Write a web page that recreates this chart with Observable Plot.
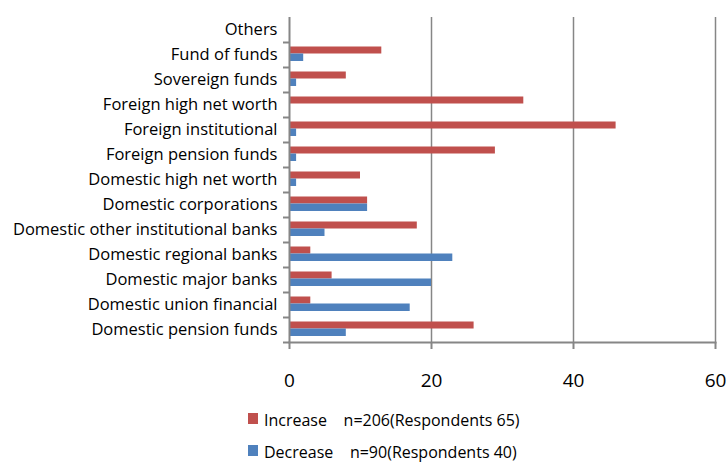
<!DOCTYPE html>
<html><head><meta charset="utf-8">
<script src="https://cdn.jsdelivr.net/npm/d3@7"></script>
<script src="https://cdn.jsdelivr.net/npm/@observablehq/plot@0.6"></script>
<style>
body{margin:0;background:#fff;font-family:"Open Sans",sans-serif}
#wrap{position:relative;width:728px;height:462px;overflow:hidden}
.leg{position:absolute;left:248px;font-size:16px;white-space:pre;color:#000;display:flex;align-items:center;line-height:20px}
.sw{width:10px;height:11px;margin-right:6px;margin-top:-4px}
</style></head>
<body><div id="wrap"></div>
<script>
const categories = ["Others","Fund of funds","Sovereign funds","Foreign high net worth","Foreign institutional","Foreign pension funds","Domestic high net worth","Domestic corporations","Domestic other institutional banks","Domestic regional banks","Domestic major banks","Domestic union financial","Domestic pension funds"];
const increase = [0,13,8,33,46,29,10,11,18,3,6,3,26];
const decrease = [0,2,1,0,1,1,1,11,5,23,20,17,8];
const seriesNames = ["Increase","Decrease"];
const legendLabels = ["Increase    n=206(Respondents 65)","Decrease    n=90(Respondents 40)"];
const colors = ["#C0504D","#4F81BD"];
const xTicks = [0,20,40,60];

const incData = categories.map((c,i)=>({category:c, value:increase[i]}));
const decData = categories.map((c,i)=>({category:c, value:decrease[i]}));

const chart = Plot.plot({
  width: 728, height: 400,
  marginLeft: 289, marginRight: 13, marginTop: 17, marginBottom: 58,
  style: {fontFamily: '"Open Sans", sans-serif', color: "#000", background: "#fff"},
  x: {domain: [0,60], ticks: xTicks, label: null},
  y: {domain: categories, padding: 0, label: null},
  marks: [
    Plot.gridX(xTicks.filter(d=>d>0), {stroke: "#868686", strokeOpacity: 1, strokeWidth: 1.5}),
    Plot.barX(incData, {x: "value", y: "category", fill: colors[0], insetTop: 4.5, insetBottom: 13.5}),
    Plot.barX(decData, {x: "value", y: "category", fill: colors[1], insetTop: 11.5, insetBottom: 6}),
    Plot.ruleX([0], {stroke: "#868686", strokeWidth: 2}),
    Plot.frame({anchor: "bottom", stroke: "#868686", strokeWidth: 2}),
    Plot.axisY({tickSize: 0, tickPadding: 12, fontSize: 16.5, fill: "#000"}),
    Plot.axisY({tickSize: 6, tickFormat: () => "", dy: 12.5, stroke: "#868686", strokeWidth: 2}),
    Plot.axisX({ticks: xTicks, tickSize: 7, tickPadding: 24, fontSize: 19, stroke: "#868686", strokeWidth: 2, fill: "#000", label: null})
  ]
});
const wrap = document.getElementById("wrap");
wrap.appendChild(chart);
legendLabels.forEach((t,i)=>{
  const d = document.createElement("div");
  d.className = "leg";
  d.style.top = (410 + i*32) + "px";
  const s = document.createElement("div");
  s.className = "sw"; s.style.background = colors[i];
  const tx = document.createElement("span");
  tx.textContent = t;
  d.appendChild(s); d.appendChild(tx);
  wrap.appendChild(d);
});
</script>
</body></html>
